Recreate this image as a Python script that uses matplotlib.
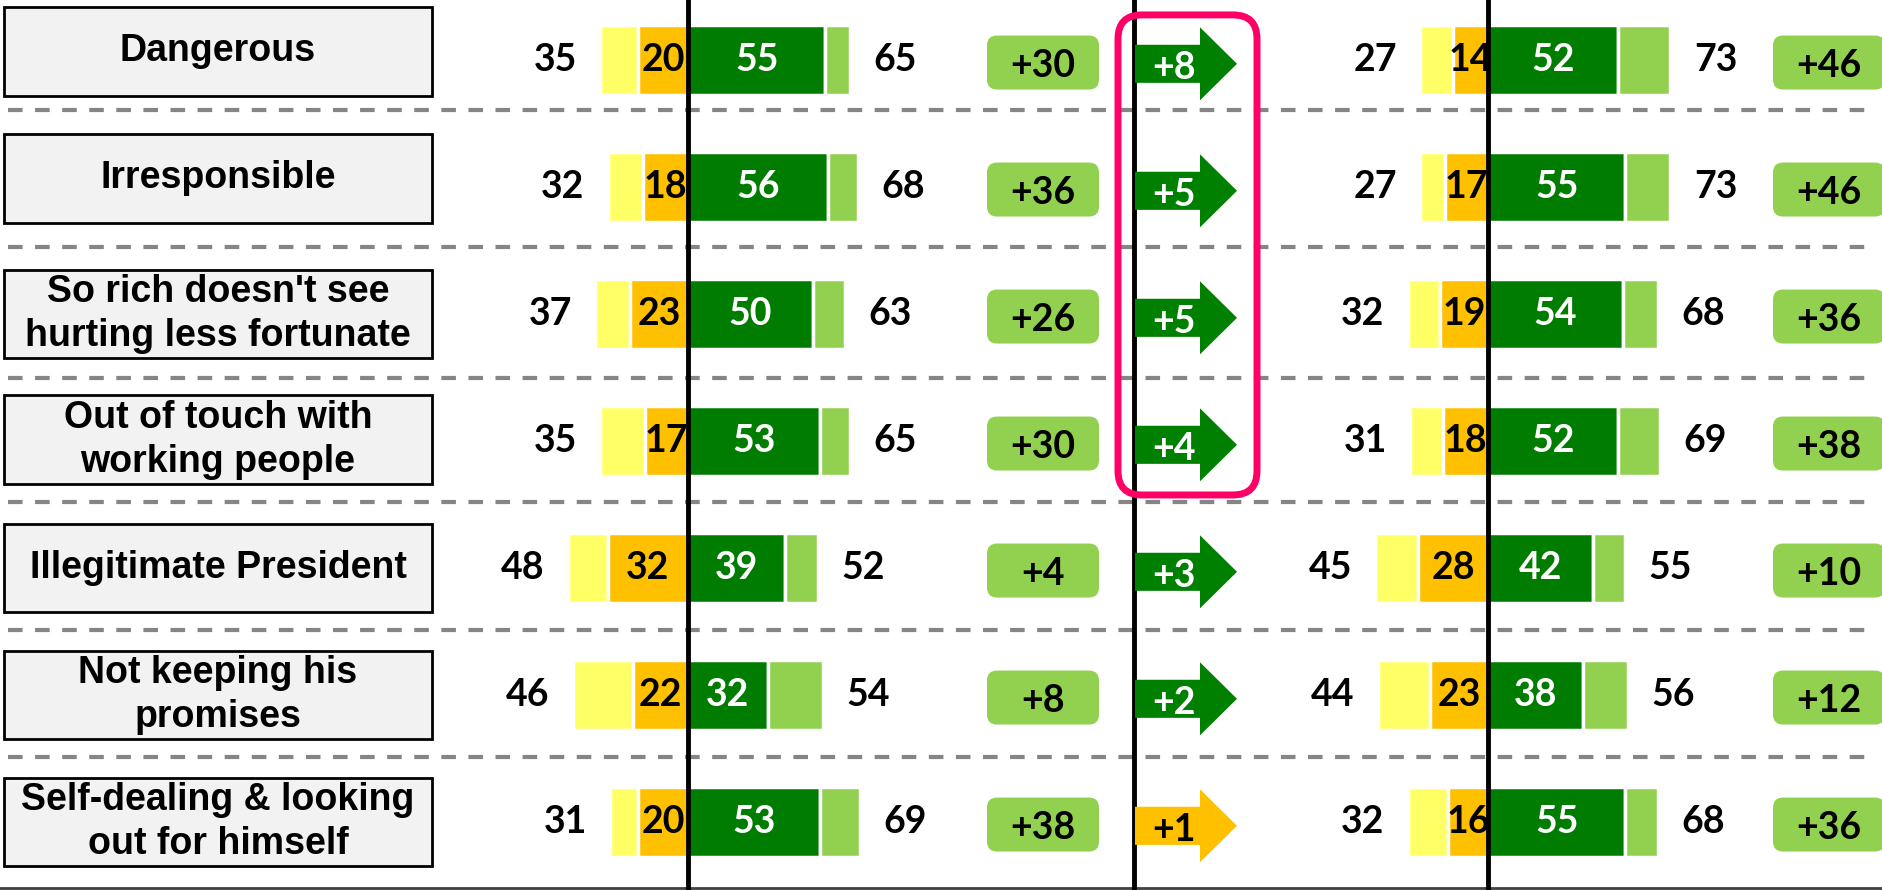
import matplotlib.pyplot as plt
from matplotlib.patches import FancyBboxPatch, Rectangle

# ---- data ----
labels = ['Dangerous', 'Irresponsible', "So rich doesn't see\nhurting less fortunate",
          'Out of touch with\nworking people', 'Illegitimate President',
          'Not keeping his\npromises', 'Self-dealing & looking\nout for himself']

# left block
neg_left = [35, 32, 37, 35, 48, 46, 31]
strong_neg_left = [20, 18, 23, 17, 32, 22, 20]
strong_pos_left = [55, 56, 50, 53, 39, 32, 53]
pos_left = [65, 68, 63, 65, 52, 54, 69]
net_left = [30, 36, 26, 30, 4, 8, 38]

# change arrows
shift = [8, 5, 5, 4, 3, 2, 1]
arrow_colors = ['#008000'] * 6 + ['#FFC000']

# right block
neg_right = [27, 27, 32, 31, 45, 44, 32]
strong_neg_right = [14, 17, 19, 18, 28, 23, 16]
strong_pos_right = [52, 55, 54, 52, 42, 38, 55]
pos_right = [73, 73, 68, 69, 55, 56, 68]
net_right = [46, 46, 36, 38, 10, 12, 36]

YELLOW = '#FFFF66'
ORANGE = '#FFC000'
DKGREEN = '#007D00'
LTGREEN = '#92D050'
PINK = '#FF0066'

NUMFONT = ['Lato', 'DejaVu Sans']
LABFONT = ['Liberation Sans', 'DejaVu Sans']

W, H = 1883, 890
PX = 2.5      # pixels per percentage point
ROW = 127     # pixels per row
fig = plt.figure(figsize=(W / 100, H / 100), dpi=100)
ylim = ((H - 60) / ROW, -60 / ROW)


def add_ax(x0, x1):
    ax = fig.add_axes([x0 / W, 0, (x1 - x0) / W, 1])
    ax.set_ylim(*ylim)
    ax.axis('off')
    return ax


bg = add_ax(0, W)
bg.set_xlim(0, W)
axL = add_ax(440, 1135)
axL.set_xlim((440 - 688) / PX, (1135 - 688) / PX)
axR = add_ax(1135, W)
axR.set_xlim((1135 - 1488) / PX, (W - 1488) / PX)

rows = list(range(len(labels)))

# separators, label boxes
sep_y = [0.39, 1.47, 2.5, 3.48, 4.49, 5.49]
for s in sep_y:
    bg.plot([8, W - 12], [s, s], color='#858585', lw=3, dashes=(3.5, 3.0), zorder=1)
box_dy = [-0.07, -0.07, 0.0, -0.01, 0.0, 0.0, 0.0]
for i, lab in zip(rows, labels):
    c = i + box_dy[i]
    bg.add_patch(Rectangle((4, c - 0.35), 428, 0.7, facecolor='#F2F2F2',
                           edgecolor='black', lw=2, zorder=2))
    bg.text(218, c, lab, ha='center', va='center', fontsize=27, fontweight='bold',
            family=LABFONT, linespacing=1.28, zorder=3)
bg.plot([0, W], [(H - 2 - 60) / ROW] * 2, color='#404040', lw=2)
bg.axvline(1134, color='black', lw=3.5, zorder=5)

# pink highlight
bg.add_patch(FancyBboxPatch((1118, -0.355), 139, 3.78, boxstyle='round,pad=0,rounding_size=24',
                            mutation_aspect=1 / ROW, facecolor='none', edgecolor=PINK,
                            lw=5, zorder=6))


def draw_block(ax, neg, sneg, spos, pos, net, box_x):
    h = 0.545
    ax.barh(rows, [n - s for n, s in zip(neg, sneg)], left=[-n for n in neg], height=h,
            color=YELLOW, edgecolor='white', lw=2.5, zorder=2)
    ax.barh(rows, sneg, left=[-s for s in sneg], height=h,
            color=ORANGE, edgecolor='white', lw=2.5, zorder=2)
    ax.barh(rows, spos, left=0, height=h,
            color=DKGREEN, edgecolor='white', lw=2.5, zorder=2)
    ax.barh(rows, [p - s for p, s in zip(pos, spos)], left=spos, height=h,
            color=LTGREEN, edgecolor='white', lw=2.5, zorder=2)
    ax.axvline(0, color='black', lw=3.5, zorder=4)
    kw = dict(ha='center', va='center', fontsize=27, fontweight='bold', family=NUMFONT, zorder=5)
    for i in rows:
        ax.text(-neg[i] - 18, i, str(neg[i]), color='black', **kw)
        ax.text(-sneg[i] / 2, i, str(sneg[i]), color='black', **kw)
        ax.text(spos[i] / 2, i, str(spos[i]), color='white', **kw)
        ax.text(pos[i] + 18, i, str(pos[i]), color='black', **kw)
        bw = 112 / PX
        bh = 54 / ROW
        ax.add_patch(FancyBboxPatch((box_x - bw / 2, i - bh / 2 + 0.02), bw, bh,
                                    boxstyle='round,pad=0,rounding_size=4',
                                    mutation_aspect=PX / ROW, facecolor=LTGREEN,
                                    edgecolor='none', zorder=3))
        ax.text(box_x, i + 0.05, f'+{net[i]}', color='black', **kw)


draw_block(axL, neg_left, strong_neg_left, strong_pos_left, pos_left, net_left, (1043 - 688) / PX)
draw_block(axR, neg_right, strong_neg_right, strong_pos_right, pos_right, net_right, (1829 - 1488) / PX)

# change arrows
a0 = (1134 - 1488) / PX
for i in rows:
    axR.arrow(a0, i + 0.03, 41.2, 0, width=0.3, head_width=0.575, head_length=14.8,
              length_includes_head=True, color=arrow_colors[i], lw=0, zorder=3)
    tc = 'black' if arrow_colors[i] == ORANGE else 'white'
    axR.text(a0 + 16, i + 0.06, f'+{shift[i]}', ha='center', va='center', fontsize=27,
             fontweight='bold', family=NUMFONT, color=tc, zorder=4)

fig.savefig('out.png', dpi=100)
